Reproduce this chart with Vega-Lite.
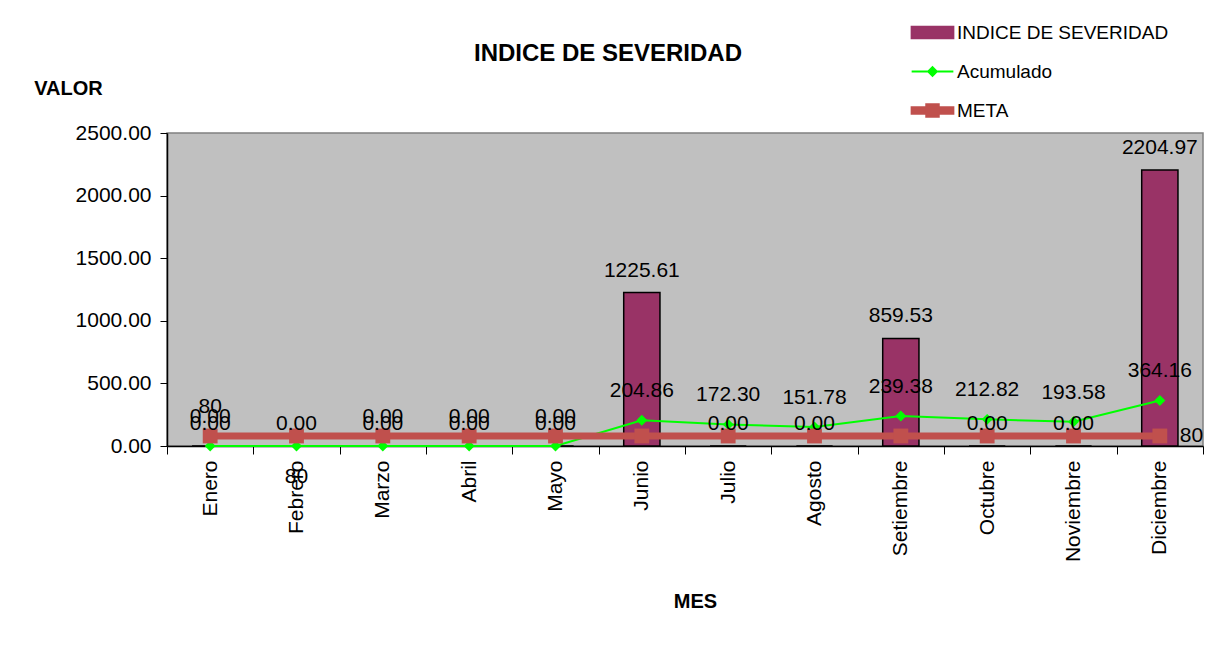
{
  "$schema": "https://vega.github.io/schema/vega-lite/v6.json",
  "width": 1036,
  "height": 313,
  "autosize": "none",
  "padding": {"left": 167, "top": 133, "right": 17, "bottom": 214},
  "background": "white",
  "title": {"text": "INDICE DE SEVERIDAD", "font": "Liberation Sans", "fontSize": 24, "fontWeight": "bold", "color": "black", "anchor": "middle", "frame": "group", "dx": -77, "dy": 58},
  "config": {
    "font": "Liberation Sans",
    "view": {"fill": "#C0C0C0", "stroke": "#808080", "strokeWidth": 1.5},
    "axis": {"labelFont": "Liberation Sans", "titleFont": "Liberation Sans", "labelColor": "black", "titleColor": "black", "domainColor": "black", "tickColor": "black", "grid": false, "domainWidth": 1.5, "tickWidth": 1},
    "legend": {"padding": 0}
  },
  "data": {
    "values": [
      {"mes": "Enero", "indice": 0, "acumulado": 0, "meta": 80},
      {"mes": "Febrero", "indice": 0, "acumulado": 0, "meta": 80},
      {"mes": "Marzo", "indice": 0, "acumulado": 0, "meta": 80},
      {"mes": "Abril", "indice": 0, "acumulado": 0, "meta": 80},
      {"mes": "Mayo", "indice": 0, "acumulado": 0, "meta": 80},
      {"mes": "Junio", "indice": 1225.61, "acumulado": 204.86, "meta": 80},
      {"mes": "Julio", "indice": 0, "acumulado": 172.30, "meta": 80},
      {"mes": "Agosto", "indice": 0, "acumulado": 151.78, "meta": 80},
      {"mes": "Setiembre", "indice": 859.53, "acumulado": 239.38, "meta": 80},
      {"mes": "Octubre", "indice": 0, "acumulado": 212.82, "meta": 80},
      {"mes": "Noviembre", "indice": 0, "acumulado": 193.58, "meta": 80},
      {"mes": "Diciembre", "indice": 2204.97, "acumulado": 364.16, "meta": 80}
    ]
  },
  "encoding": {
    "x": {
      "field": "mes", "type": "nominal", "sort": null,
      "scale": {"paddingInner": 0, "paddingOuter": 0},
      "axis": {"title": "MES", "titleFontSize": 20, "titleFontWeight": "bold", "titleX": 528, "titleY": 155, "titleAlign": "center", "titleBaseline": "middle", "labelAngle": 270, "labelAlign": "right", "labelBaseline": "middle", "labelFontSize": 21, "tickSize": 8, "labelPadding": 6, "tickBand": "extent"}
    }
  },
  "layer": [
    {
      "mark": {"type": "bar", "width": {"band": 0.42}, "stroke": "black", "strokeWidth": 1.5},
      "encoding": {
        "y": {"field": "indice", "type": "quantitative", "scale": {"domain": [0, 2500], "nice": false},
          "axis": {"title": "VALOR", "values": [0, 500, 1000, 1500, 2000, 2500], "format": ".2f", "labelFontSize": 21, "tickSize": 7, "labelPadding": 9, "titleAngle": 0, "titleX": -99, "titleY": -45, "titleAlign": "center", "titleBaseline": "middle", "titleFontSize": 20, "titleFontWeight": "bold"}},
        "color": {"datum": "INDICE DE SEVERIDAD",
          "scale": {"domain": ["INDICE DE SEVERIDAD", "Acumulado", "META"], "range": ["#993366", "#00FF00", "#C0504D"]},
          "legend": {"title": null, "orient": "none", "legendX": 745, "legendY": -121, "symbolSize": 1521, "symbolStrokeWidth": 2, "labelFontSize": 19, "labelFont": "Liberation Sans", "labelColor": "black", "labelOffset": 4, "labelLimit": 400, "rowPadding": 8}}
      }
    },
    {
      "mark": {"type": "line", "strokeWidth": 2},
      "encoding": {
        "y": {"field": "acumulado", "type": "quantitative",
          "axis": {"title": "VALOR", "values": [0, 500, 1000, 1500, 2000, 2500], "format": ".2f", "labelFontSize": 21, "tickSize": 7, "labelPadding": 9, "titleAngle": 0, "titleX": -99, "titleY": -45, "titleAlign": "center", "titleBaseline": "middle", "titleFontSize": 20, "titleFontWeight": "bold"}},
        "color": {"datum": "Acumulado"}
      }
    },
    {
      "mark": {"type": "point", "shape": "diamond", "filled": true, "size": 120, "opacity": 1},
      "encoding": {
        "y": {"field": "acumulado", "type": "quantitative",
          "axis": {"title": "VALOR", "values": [0, 500, 1000, 1500, 2000, 2500], "format": ".2f", "labelFontSize": 21, "tickSize": 7, "labelPadding": 9, "titleAngle": 0, "titleX": -99, "titleY": -45, "titleAlign": "center", "titleBaseline": "middle", "titleFontSize": 20, "titleFontWeight": "bold"}},
        "color": {"datum": "Acumulado"}
      }
    },
    {
      "mark": {"type": "point", "opacity": 0, "filled": true},
      "encoding": {
        "y": {"field": "acumulado", "type": "quantitative",
          "axis": {"title": "VALOR", "values": [0, 500, 1000, 1500, 2000, 2500], "format": ".2f", "labelFontSize": 21, "tickSize": 7, "labelPadding": 9, "titleAngle": 0, "titleX": -99, "titleY": -45, "titleAlign": "center", "titleBaseline": "middle", "titleFontSize": 20, "titleFontWeight": "bold"}},
        "color": {"datum": "Acumulado"},
        "shape": {"datum": "Acumulado",
          "scale": {"domain": ["INDICE DE SEVERIDAD", "Acumulado", "META"], "range": ["M-1.07,-0.3H1.07V0.3H-1.07Z", "M-1.07,0H1.07M0,-0.22L0.22,0L0,0.22L-0.22,0Z", "M-1.07,-0.17H1.07V0.17H-1.07ZM-0.32,-0.32H0.32V0.32H-0.32Z"]},
          "legend": {"title": null, "orient": "none", "legendX": 745, "legendY": -121, "symbolSize": 1521, "symbolStrokeWidth": 2, "labelFontSize": 19, "labelFont": "Liberation Sans", "labelColor": "black", "labelOffset": 4, "labelLimit": 400, "rowPadding": 8}}
      }
    },
    {
      "mark": {"type": "line", "strokeWidth": 7},
      "encoding": {
        "y": {"field": "meta", "type": "quantitative",
          "axis": {"title": "VALOR", "values": [0, 500, 1000, 1500, 2000, 2500], "format": ".2f", "labelFontSize": 21, "tickSize": 7, "labelPadding": 9, "titleAngle": 0, "titleX": -99, "titleY": -45, "titleAlign": "center", "titleBaseline": "middle", "titleFontSize": 20, "titleFontWeight": "bold"}},
        "color": {"datum": "META"}
      }
    },
    {
      "mark": {"type": "point", "shape": "square", "filled": true, "size": 220, "opacity": 1},
      "encoding": {
        "y": {"field": "meta", "type": "quantitative",
          "axis": {"title": "VALOR", "values": [0, 500, 1000, 1500, 2000, 2500], "format": ".2f", "labelFontSize": 21, "tickSize": 7, "labelPadding": 9, "titleAngle": 0, "titleX": -99, "titleY": -45, "titleAlign": "center", "titleBaseline": "middle", "titleFontSize": 20, "titleFontWeight": "bold"}},
        "color": {"datum": "META"}
      }
    },
    {
      "mark": {"type": "text", "fontSize": 21, "font": "Liberation Sans", "color": "black", "baseline": "alphabetic", "dy": -16},
      "encoding": {
        "y": {"field": "indice", "type": "quantitative",
          "axis": {"title": "VALOR", "values": [0, 500, 1000, 1500, 2000, 2500], "format": ".2f", "labelFontSize": 21, "tickSize": 7, "labelPadding": 9, "titleAngle": 0, "titleX": -99, "titleY": -45, "titleAlign": "center", "titleBaseline": "middle", "titleFontSize": 20, "titleFontWeight": "bold"}},
        "text": {"field": "indice", "type": "quantitative", "format": ".2f"}
      }
    },
    {
      "transform": [{"filter": "datum.mes !== 'Febrero'"}],
      "mark": {"type": "text", "fontSize": 21, "font": "Liberation Sans", "color": "black", "baseline": "alphabetic", "dy": -23},
      "encoding": {
        "y": {"field": "acumulado", "type": "quantitative",
          "axis": {"title": "VALOR", "values": [0, 500, 1000, 1500, 2000, 2500], "format": ".2f", "labelFontSize": 21, "tickSize": 7, "labelPadding": 9, "titleAngle": 0, "titleX": -99, "titleY": -45, "titleAlign": "center", "titleBaseline": "middle", "titleFontSize": 20, "titleFontWeight": "bold"}},
        "text": {"field": "acumulado", "type": "quantitative", "format": ".2f"}
      }
    },
    {
      "transform": [{"filter": "datum.mes === 'Enero'"}],
      "mark": {"type": "text", "fontSize": 21, "font": "Liberation Sans", "color": "black", "baseline": "alphabetic", "dy": -23},
      "encoding": {
        "y": {"field": "meta", "type": "quantitative",
          "axis": {"title": "VALOR", "values": [0, 500, 1000, 1500, 2000, 2500], "format": ".2f", "labelFontSize": 21, "tickSize": 7, "labelPadding": 9, "titleAngle": 0, "titleX": -99, "titleY": -45, "titleAlign": "center", "titleBaseline": "middle", "titleFontSize": 20, "titleFontWeight": "bold"}},
        "text": {"field": "meta", "type": "quantitative", "format": "d"}
      }
    },
    {
      "transform": [{"filter": "datum.mes === 'Febrero'"}],
      "mark": {"type": "text", "fontSize": 21, "font": "Liberation Sans", "color": "black", "baseline": "alphabetic", "dy": 47},
      "encoding": {
        "y": {"field": "meta", "type": "quantitative",
          "axis": {"title": "VALOR", "values": [0, 500, 1000, 1500, 2000, 2500], "format": ".2f", "labelFontSize": 21, "tickSize": 7, "labelPadding": 9, "titleAngle": 0, "titleX": -99, "titleY": -45, "titleAlign": "center", "titleBaseline": "middle", "titleFontSize": 20, "titleFontWeight": "bold"}},
        "text": {"field": "meta", "type": "quantitative", "format": "d"}
      }
    },
    {
      "transform": [{"filter": "datum.mes === 'Diciembre'"}],
      "mark": {"type": "text", "fontSize": 21, "font": "Liberation Sans", "color": "black", "baseline": "middle", "align": "left", "dx": 20},
      "encoding": {
        "y": {"field": "meta", "type": "quantitative",
          "axis": {"title": "VALOR", "values": [0, 500, 1000, 1500, 2000, 2500], "format": ".2f", "labelFontSize": 21, "tickSize": 7, "labelPadding": 9, "titleAngle": 0, "titleX": -99, "titleY": -45, "titleAlign": "center", "titleBaseline": "middle", "titleFontSize": 20, "titleFontWeight": "bold"}},
        "text": {"field": "meta", "type": "quantitative", "format": "d"}
      }
    }
  ]
}
